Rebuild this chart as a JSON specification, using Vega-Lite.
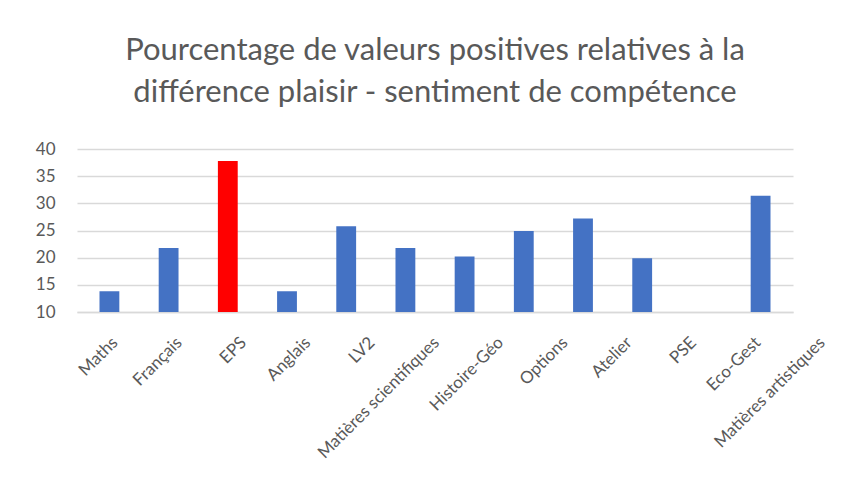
{
  "$schema": "https://vega.github.io/schema/vega-lite/v6.json",
  "width": 716,
  "height": 163,
  "autosize": {"type": "none"},
  "padding": {"left": 77, "top": 149, "right": 69, "bottom": 191},
  "background": "white",
  "title": {
    "text": ["Pourcentage de valeurs positives relatives à la", "différence plaisir - sentiment de compétence"],
    "font": "Lato",
    "fontSize": 31,
    "fontWeight": "normal",
    "color": "#595959",
    "anchor": "middle",
    "lineHeight": 42,
    "offset": 31
  },
  "data": {
    "values": [
      {"matiere": "Maths", "valeur": 13.8},
      {"matiere": "Français", "valeur": 21.8},
      {"matiere": "EPS", "valeur": 37.8},
      {"matiere": "Anglais", "valeur": 13.8},
      {"matiere": "LV2", "valeur": 25.8},
      {"matiere": "Matières scientifiques", "valeur": 21.8},
      {"matiere": "Histoire-Géo", "valeur": 20.2},
      {"matiere": "Options", "valeur": 24.9},
      {"matiere": "Atelier", "valeur": 27.2},
      {"matiere": "PSE", "valeur": 19.9},
      {"matiere": "Eco-Gest", "valeur": null},
      {"matiere": "Matières artistiques", "valeur": 31.4}
    ]
  },
  "mark": {"type": "bar", "clip": true},
  "encoding": {
    "x": {
      "field": "matiere",
      "type": "nominal",
      "sort": null,
      "scale": {
        "domain": ["Maths", "Français", "EPS", "Anglais", "LV2", "Matières scientifiques", "Histoire-Géo", "Options", "Atelier", "PSE", "Eco-Gest", "Matières artistiques"],
        "paddingInner": 0.665, "paddingOuter": 0.38
      },
      "axis": {
        "title": null,
        "labelAngle": -45,
        "labelFont": "Lato",
        "labelFontSize": 17,
        "labelColor": "#595959",
        "labelPadding": 22,
        "labelOffset": {"expr": "5.1 * indexof(['Maths', 'Français', 'EPS', 'Anglais', 'LV2', 'Matières scientifiques', 'Histoire-Géo', 'Options', 'Atelier', 'PSE', 'Eco-Gest', 'Matières artistiques'], datum.value)"},
        "ticks": false,
        "domainColor": "#d9d9d9",
        "domainWidth": 1.5
      }
    },
    "y": {
      "field": "valeur",
      "type": "quantitative",
      "scale": {"domain": [10, 40], "zero": false, "nice": false},
      "axis": {
        "title": null,
        "values": [10, 15, 20, 25, 30, 35, 40],
        "labelFont": "Lato",
        "labelFontSize": 17,
        "labelColor": "#595959",
        "labelPadding": 22,
        "ticks": false,
        "domain": false,
        "gridColor": "#d9d9d9",
        "gridWidth": 1.5
      }
    },
    "color": {
      "condition": {"test": "datum.matiere === 'EPS'", "value": "#FF0000"},
      "value": "#4472C4"
    }
  },
  "config": {"view": {"stroke": null}}
}
